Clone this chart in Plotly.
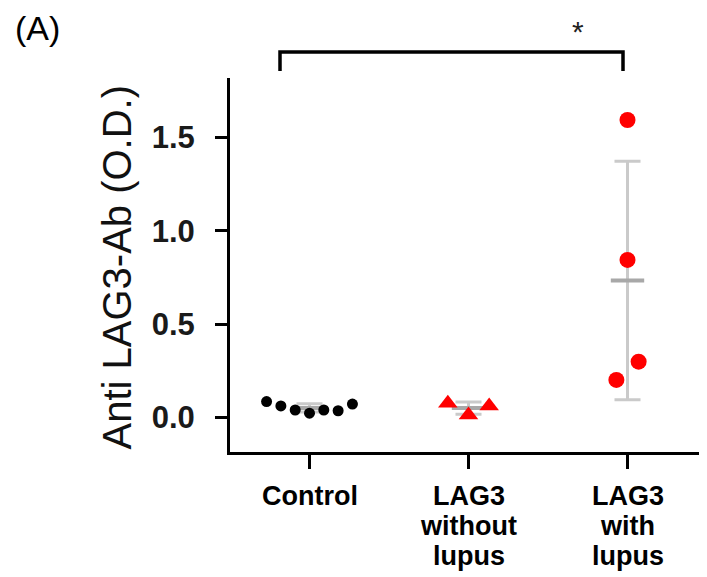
import plotly.graph_objects as go
import numpy as np

# ---- data ----
categories = ["Control", "LAG3<br>without<br>lupus", "LAG3<br>with<br>lupus"]
control_values = [0.085, 0.062, 0.040, 0.023, 0.040, 0.036, 0.072]
control_offsets = [-0.27, -0.18, -0.09, 0.0, 0.09, 0.18, 0.27]
without_values = [0.076, 0.013, 0.062]
without_offsets = [-0.13, 0.0, 0.13]
with_values = [0.201, 0.844, 1.594, 0.299]
with_offsets = [-0.07, 0.0, 0.0, 0.07]
y_tickvals = [0.0, 0.5, 1.0, 1.5]
y_ticktext = ["0.0", "0.5", "1.0", "1.5"]
y_title = "Anti LAG3-Ab (O.D.)"
panel_label = "(A)"
sig_label = "*"

FONT = "Liberation Sans, Arial, sans-serif"
GRAY_BAR = "#cacaca"
GRAY_MEAN = "#a8a8a8"

groups = [
    (control_values, control_offsets, "circle", 11, "black"),
    (without_values, without_offsets, "triangle-up", 17, "#ff0000"),
    (with_values, with_offsets, "circle", 16, "#ff0000"),
]

fig = go.Figure()

for i, (vals, offs, sym, size, col) in enumerate(groups):
    v = np.array(vals)
    m = v.mean()
    sd = v.std(ddof=1)
    fig.add_trace(go.Scatter(
        x=[i], y=[m], mode="markers",
        marker=dict(size=1, color="rgba(0,0,0,0)"),
        error_y=dict(type="data", array=[sd], color=GRAY_BAR, thickness=3, width=13),
        showlegend=False, hoverinfo="skip"))
    fig.add_trace(go.Scatter(
        x=[i - 0.105, i + 0.105], y=[m, m], mode="lines",
        line=dict(color=GRAY_MEAN, width=4),
        showlegend=False, hoverinfo="skip"))
    fig.add_trace(go.Scatter(
        x=[i + o for o in offs], y=vals, mode="markers",
        marker=dict(symbol=sym, size=size, color=col, line=dict(width=0)),
        showlegend=False))

# page body has an 8px default margin, so the figure is drawn at (8, 8)
OFF = 8
W, H = 707 - OFF, 577 - OFF
L, R, T = 230 - OFF, 0, 78 - OFF
B = H - (452 - OFF)
PH = H - T - B
PW = W - L - R


def py(ypix):  # reference-pixel y -> paper
    return (452 - ypix) / PH


def px(xpix):  # reference-pixel x -> paper
    return (xpix - 230) / PW


annotations = []
for i, cat in enumerate(categories):
    for k, line in enumerate(cat.split("<br>")):
        annotations.append(dict(
            x=i, xref="x", y=py(496 + 30 * k), yref="paper",
            text=line, showarrow=False, xanchor="center", yanchor="middle",
            font=dict(family=FONT, size=27, color="black", weight="bold")))

annotations.append(dict(
    x=px(116), xref="paper", y=py(267.5), yref="paper", text=y_title,
    textangle=-90, showarrow=False, xanchor="center", yanchor="middle",
    font=dict(family=FONT, size=40, color="#111111")))

annotations.append(dict(
    x=px(37), xref="paper", y=py(28), yref="paper", text=panel_label,
    showarrow=False, xanchor="center", yanchor="middle",
    font=dict(family=FONT, size=34, color="black")))

annotations.append(dict(
    x=px(578), xref="paper", y=py(32), yref="paper", text=sig_label,
    showarrow=False, xanchor="center", yanchor="middle",
    font=dict(family=FONT, size=30, color="#222222")))

x0, x1 = px(280), px(623)
yt, yb = py(52), py(71)
shapes = [dict(type="path", xref="paper", yref="paper",
               path=f"M {x0},{yb} L {x0},{yt} L {x1},{yt} L {x1},{yb}",
               line=dict(color="black", width=3.5))]

fig.update_layout(
    width=W, height=H,
    margin=dict(l=L, r=R, t=T, b=B, autoexpand=False),
    plot_bgcolor="white", paper_bgcolor="white",
    annotations=annotations, shapes=shapes,
    xaxis=dict(range=[-0.5, 2.5], tickvals=[0, 1, 2], ticktext=["", "", ""],
               showticklabels=False, ticks="outside", ticklen=14, tickwidth=3,
               tickcolor="black", showline=True, linecolor="black", linewidth=3,
               showgrid=False, zeroline=False, fixedrange=True),
    yaxis=dict(range=[-0.185, 1.819], tickvals=y_tickvals, ticktext=y_ticktext,
               ticks="outside", ticklen=12, tickwidth=3, tickcolor="black",
               showline=True, linecolor="black", linewidth=3,
               showgrid=False, zeroline=False, ticklabelstandoff=14,
               tickfont=dict(family=FONT, size=31, color="#1a1a1a", weight="bold")),
)

fig.write_html("out.html")
